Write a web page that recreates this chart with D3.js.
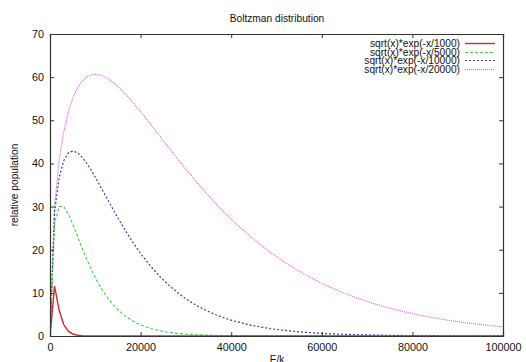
<!DOCTYPE html>
<html>
<head>
<meta charset="utf-8">
<script src="https://cdn.jsdelivr.net/npm/d3@7"></script>
<style>
  html, body { margin: 0; padding: 0; background: #fff; }
  svg text { font-family: "Liberation Sans", Arial, Helvetica, sans-serif; fill: #111; }
</style>
</head>
<body>
<svg id="chart" width="526" height="362"></svg>
<script>
// Sampled curves: energy (E/k) and relative population for each temperature.
const energyT1000 = [0, 1010, 2020, 3030, 4040, 5051, 6061, 7071, 8081, 9091, 10101, 100000];
const popT1000    = [0, 11.58, 5.96, 2.66, 1.12, 0.455, 0.182, 0.072, 0.028, 0.011, 0.004, 0];

const energyT5000 = [0, 1010, 2020, 3030, 4040, 5051, 6061, 7071, 8081, 9091, 10101, 11111, 12121,
  13131, 14141, 15152, 16162, 17172, 18182, 19192, 20202, 21212, 22222, 23232, 24242, 25253,
  26263, 27273, 28283, 29293, 30303, 32323, 35354, 40404, 50505, 100000];
const popT5000    = [0, 25.97, 30.01, 30.03, 28.33, 25.88, 23.17, 20.45, 17.86, 15.48, 13.33, 11.42, 9.75,
  8.29, 7.03, 5.95, 5.02, 4.23, 3.55, 2.98, 2.50, 2.09, 1.75,
  1.46, 1.22, 1.02, 0.85, 0.71, 0.59, 0.49, 0.41, 0.28, 0.16, 0.062, 0.009, 0];

const energyT10000 = [0, 1010, 2020, 3030, 4040, 5051, 6061, 7071, 8081, 9091, 10101, 12121, 14141,
  16162, 18182, 20202, 22222, 24242, 26263, 28283, 30303, 32323, 34343, 36364, 38384, 40404,
  44444, 48485, 52525, 56566, 60606, 66667, 72727, 80808, 90909, 100000];
const popT10000    = [0, 28.73, 36.73, 40.66, 42.43, 42.89, 42.47, 41.46, 40.06, 38.42, 36.60, 32.76, 28.91,
  25.26, 21.88, 18.84, 16.16, 13.79, 11.73, 9.95, 8.41, 7.10, 5.98, 5.02, 4.22, 3.54,
  2.48, 1.73, 1.20, 0.83, 0.57, 0.33, 0.19, 0.088, 0.034, 0.014];

const energyT20000 = [0, 1010, 2020, 3030, 4040, 5051, 6061, 7071, 8081, 9091, 10101, 11111, 12121,
  14141, 16162, 18182, 20202, 22222, 24242, 26263, 28283, 30303, 32323, 34343, 36364, 38384,
  40404, 44444, 48485, 52525, 56566, 60606, 64646, 68687, 72727, 76768, 80808, 84848, 88889,
  92929, 96970, 100000];
const popT20000    = [0, 30.22, 40.63, 47.31, 51.94, 55.21, 57.50, 59.06, 60.01, 60.53, 60.65, 60.48, 60.06,
  58.63, 56.65, 54.31, 51.75, 49.08, 46.34, 43.60, 40.89, 38.27, 35.73, 33.28, 30.95, 28.74,
  26.65, 22.85, 19.50, 16.59, 14.06, 11.89, 10.03, 8.45, 7.11, 5.97, 5.00, 4.19, 3.50,
  2.92, 2.44, 2.13];

const seriesLabels = ["sqrt(x)*exp(-x/1000)", "sqrt(x)*exp(-x/5000)",
                      "sqrt(x)*exp(-x/10000)", "sqrt(x)*exp(-x/20000)"];
const xTicks = [0, 20000, 40000, 60000, 80000, 100000];
const yTicks = [0, 10, 20, 30, 40, 50, 60, 70];

const titleText = "Boltzman distribution";
const xLabel = "E/k";
const yLabel = "relative population";

// Drawing setup
const svg = d3.select("#chart");
const margin = { left: 50, right: 23, top: 34, bottom: 26 };
const W = 526, H = 362;
const x = d3.scaleLinear().domain([0, 100000]).range([margin.left, W - margin.right]);
const y = d3.scaleLinear().domain([0, 70]).range([H - margin.bottom, margin.top]);
const fontSize = 10.2;

const series = [
  { label: seriesLabels[0], xs: energyT1000,  ys: popT1000,  color: "#d42828", dash: null,  width: 1.4 },
  { label: seriesLabels[1], xs: energyT5000,  ys: popT5000,  color: "#44d044", dash: "3,2", width: 1.1 },
  { label: seriesLabels[2], xs: energyT10000, ys: popT10000, color: "#3a3aa6", dash: "2,2", width: 1.2 },
  { label: seriesLabels[3], xs: energyT20000, ys: popT20000, color: "#dd55dd", dash: "1,1", width: 1.1 }
];

// Title
svg.append("text").attr("x", 277).attr("y", 22).attr("text-anchor", "middle")
  .attr("font-size", fontSize).text(titleText);

// Curves (clipped to plot area)
svg.append("clipPath").attr("id", "plotclip").append("rect")
  .attr("x", x(0)).attr("y", y(70)).attr("width", x(100000) - x(0)).attr("height", y(0) - y(70));

const line = d3.line().x(d => x(d[0])).y(d => y(d[1]));
const plot = svg.append("g").attr("clip-path", "url(#plotclip)");
series.slice().reverse().forEach(s => {
  const pts = s.xs.map((e, i) => [e, s.ys[i]]);
  plot.append("path").attr("d", line(pts)).attr("fill", "none")
    .attr("stroke", s.color).attr("stroke-width", s.width)
    .attr("stroke-dasharray", s.dash);
});

// Axes with inward ticks, mirrored on top and right
const tickLen = 4;
const axisColor = "#333";
const axisBottomG = svg.append("g").attr("transform", `translate(0,${y(0)})`)
  .call(d3.axisBottom(x).tickValues(xTicks).tickSize(-tickLen).tickPadding(7).tickFormat(d3.format("d")));
const axisTopG = svg.append("g").attr("transform", `translate(0,${y(70)})`)
  .call(d3.axisTop(x).tickValues(xTicks).tickSize(-tickLen).tickFormat(""));
const axisLeftG = svg.append("g").attr("transform", `translate(${x(0)},0)`)
  .call(d3.axisLeft(y).tickValues(yTicks).tickSize(-tickLen).tickPadding(6));
const axisRightG = svg.append("g").attr("transform", `translate(${x(100000)},0)`)
  .call(d3.axisRight(y).tickValues(yTicks).tickSize(-tickLen).tickFormat(""));

[axisBottomG, axisTopG, axisLeftG, axisRightG].forEach(g => {
  g.selectAll("path.domain").attr("stroke", axisColor).attr("stroke-width", 1.2);
  g.selectAll(".tick line").attr("stroke", axisColor);
  g.selectAll(".tick text").attr("font-size", fontSize + 0.6).attr("fill", "#111")
    .attr("font-family", "'Liberation Sans', Arial, sans-serif");
});
// Hide end ticks that coincide with the frame
axisBottomG.selectAll(".tick").filter(d => d === 0 || d === 100000).select("line").remove();
axisTopG.selectAll(".tick").filter(d => d === 0 || d === 100000).select("line").remove();
axisLeftG.selectAll(".tick").filter(d => d === 0 || d === 70).select("line").remove();
axisRightG.selectAll(".tick").filter(d => d === 0 || d === 70).select("line").remove();

// Axis titles
svg.append("text").attr("x", 277).attr("y", 363).attr("text-anchor", "middle")
  .attr("font-size", fontSize).text(xLabel);
svg.append("text").attr("transform", `translate(18,${(y(0) + y(70)) / 2}) rotate(-90)`)
  .attr("text-anchor", "middle").attr("font-size", fontSize).text(yLabel);

// Legend
const legend = svg.append("g");
series.forEach((s, i) => {
  const ly = Math.round(43 + i * 8.5) + 0.5;
  legend.append("text").attr("x", 460).attr("y", ly).attr("dy", "0.35em")
    .attr("text-anchor", "end").attr("font-size", fontSize).text(s.label);
  legend.append("line").attr("x1", 465).attr("x2", 495).attr("y1", ly).attr("y2", ly)
    .attr("stroke", s.color).attr("stroke-width", s.width).attr("stroke-dasharray", s.dash);
});
</script>
</body>
</html>
